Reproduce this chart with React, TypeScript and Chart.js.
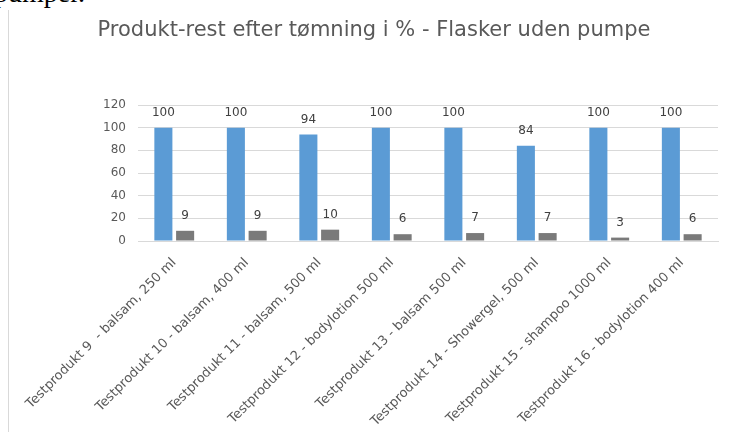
import React, { useEffect, useRef } from "react";
import { Chart, registerables } from "chart.js";

Chart.register(...registerables);

const categories: string[] = [
  "Testprodukt 9  - balsam, 250 ml",
  "Testprodukt 10 - balsam, 400 ml",
  "Testprodukt 11 - balsam, 500 ml",
  "Testprodukt 12 - bodylotion 500 ml",
  "Testprodukt 13 - balsam 500 ml",
  "Testprodukt 14 - Showergel, 500 ml",
  "Testprodukt 15 - shampoo 1000 ml",
  "Testprodukt 16 - bodylotion 400 ml",
];
const seriesBlue: number[] = [100, 100, 94, 100, 100, 84, 100, 100];
const seriesGray: number[] = [9, 9, 10, 6, 7, 7, 3, 6];
const yTicks: number[] = [0, 20, 40, 60, 80, 100, 120];
const titleText = "Produkt-rest efter tømning i % - Flasker uden pumpe";

const FONT = "'DejaVu Sans', sans-serif";

const dataLabelPlugin = {
  id: "dataLabels",
  afterDatasetsDraw(chart: any) {
    const ctx = chart.ctx;
    ctx.save();
    ctx.font = `12px ${FONT}`;
    ctx.fillStyle = "#404040";
    ctx.textAlign = "center";
    ctx.textBaseline = "middle";
    chart.data.datasets.forEach((ds: any, di: number) => {
      const meta = chart.getDatasetMeta(di);
      meta.data.forEach((el: any, i: number) => {
        ctx.fillText(String(ds.data[i]), el.x, el.y - 15);
      });
    });
    ctx.restore();
  },
};

export default function App() {
  const ref = useRef<HTMLCanvasElement>(null);
  useEffect(() => {
    if (!ref.current) return;
    const chart = new Chart(ref.current, {
      type: "bar",
      data: {
        labels: categories,
        datasets: [
          {
            label: "A",
            data: seriesBlue,
            backgroundColor: "#5B9BD5",
            categoryPercentage: 0.6,
            barPercentage: 0.83,
          },
          {
            label: "B",
            data: seriesGray,
            backgroundColor: "#7A7A7A",
            categoryPercentage: 0.6,
            barPercentage: 0.83,
          },
        ],
      },
      options: {
        animation: false,
        responsive: false,
        devicePixelRatio: 1,
        layout: { padding: { left: 30, right: 11, top: 0, bottom: 0 } },
        plugins: {
          legend: { display: false },
          tooltip: { enabled: false },
          title: {
            display: true,
            text: titleText,
            color: "#595959",
            font: { family: FONT, size: 21, weight: "normal" },
            padding: { top: 18, bottom: 61.8 },
          },
        },
        scales: {
          x: {
            grid: { display: false },
            border: { display: true, color: "#D9D9D9" },
            ticks: {
              autoSkip: false,
              minRotation: 45,
              maxRotation: 45,
              color: "#595959",
              font: { family: FONT, size: 13 },
              padding: 6,
            },
            afterFit: (s: any) => {
              s.height = 191;
            },
          },
          y: {
            min: 0,
            max: 120,
            afterBuildTicks: (s: any) => {
              s.ticks = yTicks.map((v) => ({ value: v }));
            },
            grid: { color: "#D9D9D9", drawTicks: false },
            border: { display: false },
            ticks: {
              color: "#595959",
              font: { family: FONT, size: 12 },
              padding: 12,
            },
            afterFit: (s: any) => {
              s.width = 108;
            },
          },
        },
      },
      plugins: [dataLabelPlugin],
    });
    return () => chart.destroy();
  }, []);

  return (
    <div
      style={{
        position: "fixed",
        left: 0,
        top: 0,
        width: 729,
        height: 432,
        overflow: "hidden",
        background: "#fff",
      }}
    >
      <div
        style={{
          position: "absolute",
          left: -6,
          top: -23,
          fontFamily: "'Liberation Serif', serif",
          fontSize: 28,
          color: "#000",
          whiteSpace: "nowrap",
        }}
      >
        pumper.
      </div>
      <div
        style={{
          position: "absolute",
          left: 8,
          top: 10,
          bottom: 0,
          borderLeft: "1px solid #D9D9D9",
        }}
      />
      <canvas
        ref={ref}
        width={729}
        height={432}
        style={{ position: "absolute", left: 0, top: 0 }}
      />
    </div>
  );
}
